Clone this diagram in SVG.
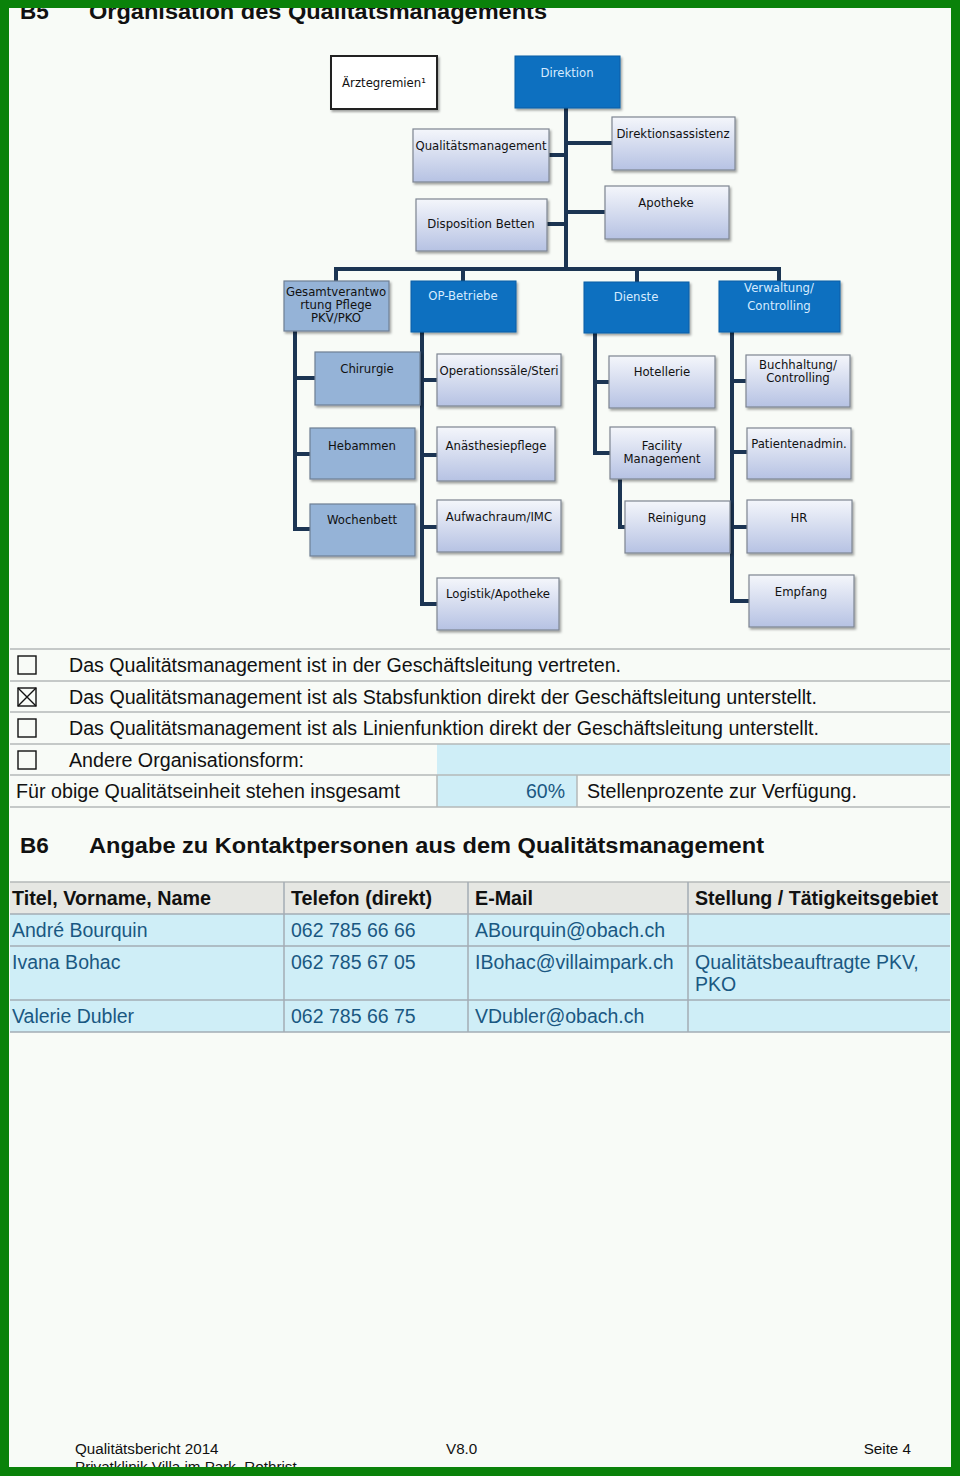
<svg xmlns="http://www.w3.org/2000/svg" width="960" height="1476" viewBox="0 0 960 1476">
<defs>
<linearGradient id="lg" x1="0" y1="0" x2="0" y2="1">
<stop offset="0" stop-color="#f4f6fb"/>
<stop offset="1" stop-color="#b6c2e3"/>
</linearGradient>
<filter id="sh" x="-10%" y="-10%" width="130%" height="140%">
<feDropShadow dx="1.5" dy="2" stdDeviation="1.2" flood-color="#000" flood-opacity="0.35"/>
</filter>
</defs>
<style>
.lt{fill:url(#lg);stroke:#7e8592;stroke-width:1.2;filter:url(#sh)}
.md{fill:#95b3d7;stroke:#6f7f94;stroke-width:1.2;filter:url(#sh)}
.dk{fill:#0a6fc0;stroke:#0a5ea6;stroke-width:1;filter:url(#sh)}
.ot{font-family:"DejaVu Sans",Verdana,sans-serif;font-size:11.7px;fill:#111;text-anchor:middle}
.wt{font-family:"DejaVu Sans",Verdana,sans-serif;font-size:11.7px;fill:#d6ebff;text-anchor:middle}
.con{stroke:#1c3553;stroke-width:4;fill:none;stroke-linecap:square}
.h{font-family:"Liberation Sans",Arial,sans-serif;font-weight:bold;font-size:22.5px;fill:#111}
.t{font-family:"Liberation Sans",Arial,sans-serif;font-size:19.5px;fill:#111}
.tb{font-family:"Liberation Sans",Arial,sans-serif;font-size:19.5px;fill:#111;font-weight:bold}
.tv{font-family:"Liberation Sans",Arial,sans-serif;font-size:19.5px;fill:#1a5882}
.rl{stroke:#b4b8b8;stroke-width:1.5}
.cb{fill:none;stroke:#111;stroke-width:1.4}
.ft{font-family:"Liberation Sans",Arial,sans-serif;font-size:15.2px;fill:#111}
</style>
<rect x="0" y="0" width="960" height="1476" fill="#f8fbf7"/>

<text class="h" x="20" y="19">B5</text>
<text class="h" x="89" y="19" textLength="458" lengthAdjust="spacingAndGlyphs">Organisation des Qualitätsmanagements</text>

<g id="connectors">
<path class="con" d="M566 108 V269 M549 155 H566 M566 143 H612 M547 224 H566 M566 212 H605"/>
<path class="con" d="M336 269 H779 M336 269 V281 M463 269 V281 M637 269 V282 M779 269 V281"/>
<path class="con" d="M295 331 V529 M295 378 H315 M295 454 H310 M295 529 H310"/>
<path class="con" d="M422 332 V604 M422 380 H437 M422 455 H437 M422 527 H437 M422 604 H437"/>
<path class="con" d="M595 333 V453 M595 382 H609 M595 453 H610 M620 479 V527 H625"/>
<path class="con" d="M732 332 V601 M732 381 H746 M732 452 H747 M732 527 H747 M732 601 H749"/>
</g>

<g id="aerztegremien"><rect x="331" y="56" width="106" height="53" fill="#fff" stroke="#222" stroke-width="2" filter="url(#sh)"/><text class="ot" x="384" y="87">Ärztegremien¹</text></g>
<g id="direktion"><rect class="dk" x="515" y="56" width="105" height="52"/><text class="wt" x="567" y="77">Direktion</text></g>
<g id="qm"><rect class="lt" x="413" y="129" width="136" height="53"/><text class="ot" x="481" y="150">Qualitätsmanagement</text></g>
<g id="direktionsassistenz"><rect class="lt" x="612" y="117" width="123" height="53"/><text class="ot" x="673" y="138">Direktionsassistenz</text></g>
<g id="disposition"><rect class="lt" x="416" y="199" width="131" height="52"/><text class="ot" x="481" y="228">Disposition Betten</text></g>
<g id="apotheke"><rect class="lt" x="605" y="186" width="124" height="53"/><text class="ot" x="666" y="207">Apotheke</text></g>

<g id="gesamtverantwortung"><rect class="md" x="284" y="281" width="105" height="50"/><text class="ot" x="336" y="296">Gesamtverantwo</text><text class="ot" x="336" y="309">rtung Pflege</text><text class="ot" x="336" y="322">PKV/PKO</text></g>
<g id="op-betriebe"><rect class="dk" x="411" y="281" width="105" height="51"/><text class="wt" x="463" y="300">OP-Betriebe</text></g>
<g id="dienste"><rect class="dk" x="584" y="282" width="105" height="51"/><text class="wt" x="636" y="301">Dienste</text></g>
<g id="verwaltung"><rect class="dk" x="719" y="281" width="121" height="51"/><text class="wt" x="779" y="292">Verwaltung/</text><text class="wt" x="779" y="310">Controlling</text></g>

<g id="chirurgie"><rect class="md" x="315" y="352" width="105" height="53"/><text class="ot" x="367" y="373">Chirurgie</text></g>
<g id="hebammen"><rect class="md" x="310" y="428" width="105" height="51"/><text class="ot" x="362" y="450">Hebammen</text></g>
<g id="wochenbett"><rect class="md" x="310" y="504" width="105" height="52"/><text class="ot" x="362" y="524">Wochenbett</text></g>

<g id="operationssaele"><rect class="lt" x="437" y="354" width="124" height="52"/><text class="ot" x="499" y="375">Operationssäle/Steri</text></g>
<g id="anaesthesiepflege"><rect class="lt" x="437" y="427" width="118" height="54"/><text class="ot" x="496" y="450">Anästhesiepflege</text></g>
<g id="aufwachraum"><rect class="lt" x="437" y="500" width="124" height="52"/><text class="ot" x="499" y="521">Aufwachraum/IMC</text></g>
<g id="logistik"><rect class="lt" x="437" y="578" width="122" height="52"/><text class="ot" x="498" y="598">Logistik/Apotheke</text></g>

<g id="hotellerie"><rect class="lt" x="609" y="356" width="106" height="52"/><text class="ot" x="662" y="376">Hotellerie</text></g>
<g id="facility"><rect class="lt" x="610" y="427" width="105" height="52"/><text class="ot" x="662" y="450">Facility</text><text class="ot" x="662" y="463">Management</text></g>
<g id="reinigung"><rect class="lt" x="625" y="501" width="105" height="52"/><text class="ot" x="677" y="522">Reinigung</text></g>

<g id="buchhaltung"><rect class="lt" x="746" y="355" width="104" height="52"/><text class="ot" x="798" y="369">Buchhaltung/</text><text class="ot" x="798" y="382">Controlling</text></g>
<g id="patientenadmin"><rect class="lt" x="747" y="428" width="104" height="51"/><text class="ot" x="799" y="448">Patientenadmin.</text></g>
<g id="hr"><rect class="lt" x="747" y="500" width="105" height="53"/><text class="ot" x="799" y="522">HR</text></g>
<g id="empfang"><rect class="lt" x="749" y="575" width="105" height="52"/><text class="ot" x="801" y="596">Empfang</text></g>

<g id="checklist">
<rect x="437" y="744" width="513" height="31" fill="#cfeef7"/>
<rect x="437" y="775" width="140" height="32" fill="#cfeef7"/>
<line class="rl" x1="10" y1="649" x2="950" y2="649"/>
<line class="rl" x1="10" y1="681" x2="950" y2="681"/>
<line class="rl" x1="10" y1="712" x2="950" y2="712"/>
<line class="rl" x1="10" y1="744" x2="950" y2="744"/>
<line class="rl" x1="10" y1="775" x2="950" y2="775"/>
<line class="rl" x1="10" y1="807" x2="950" y2="807"/>
<line class="rl" x1="437" y1="775" x2="437" y2="807"/>
<line class="rl" x1="577" y1="775" x2="577" y2="807"/>
<rect class="cb" x="18" y="656" width="18" height="18"/>
<rect class="cb" x="18" y="688" width="18" height="18"/>
<path class="cb" d="M18 688 L36 706 M36 688 L18 706"/>
<rect class="cb" x="18" y="719" width="18" height="18"/>
<rect class="cb" x="18" y="751" width="18" height="18"/>
<text class="t" x="69" y="672" textLength="552" lengthAdjust="spacingAndGlyphs">Das Qualitätsmanagement ist in der Geschäftsleitung vertreten.</text>
<text class="t" x="69" y="704" textLength="748" lengthAdjust="spacingAndGlyphs">Das Qualitätsmanagement ist als Stabsfunktion direkt der Geschäftsleitung unterstellt.</text>
<text class="t" x="69" y="735" textLength="750" lengthAdjust="spacingAndGlyphs">Das Qualitätsmanagement ist als Linienfunktion direkt der Geschäftsleitung unterstellt.</text>
<text class="t" x="69" y="767" textLength="235" lengthAdjust="spacingAndGlyphs">Andere Organisationsform:</text>
<text class="t" x="16" y="798" textLength="384" lengthAdjust="spacingAndGlyphs">Für obige Qualitätseinheit stehen insgesamt</text>
<text class="tv" x="565" y="798" text-anchor="end">60%</text>
<text class="t" x="587" y="798" textLength="270" lengthAdjust="spacingAndGlyphs">Stellenprozente zur Verfügung.</text>
</g>

<text class="h" x="20" y="853">B6</text>
<text class="h" x="89" y="853" textLength="675" lengthAdjust="spacingAndGlyphs">Angabe zu Kontaktpersonen aus dem Qualitätsmanagement</text>

<g id="contacts">
<rect x="10" y="882" width="940" height="32" fill="#e6e7e3"/>
<rect x="10" y="914" width="940" height="118" fill="#cfeef7"/>
<line class="rl" x1="10" y1="882" x2="950" y2="882"/>
<line x1="10" y1="914" x2="950" y2="914" stroke="#a3acb4" stroke-width="1.5"/>
<line x1="10" y1="946" x2="950" y2="946" stroke="#a3acb4" stroke-width="1.5"/>
<line x1="10" y1="1000" x2="950" y2="1000" stroke="#a3acb4" stroke-width="1.5"/>
<line x1="10" y1="1032" x2="950" y2="1032" stroke="#a3acb4" stroke-width="1.5"/>
<line x1="284" y1="882" x2="284" y2="1032" stroke="#a3acb4" stroke-width="1.5"/>
<line x1="468" y1="882" x2="468" y2="1032" stroke="#a3acb4" stroke-width="1.5"/>
<line x1="688" y1="882" x2="688" y2="1032" stroke="#a3acb4" stroke-width="1.5"/>
<text class="tb" x="12" y="905" textLength="199" lengthAdjust="spacingAndGlyphs">Titel, Vorname, Name</text>
<text class="tb" x="291" y="905" textLength="141" lengthAdjust="spacingAndGlyphs">Telefon (direkt)</text>
<text class="tb" x="475" y="905" textLength="58" lengthAdjust="spacingAndGlyphs">E-Mail</text>
<text class="tb" x="695" y="905" textLength="243" lengthAdjust="spacingAndGlyphs">Stellung / Tätigkeitsgebiet</text>
<text class="tv" x="12" y="937">André Bourquin</text>
<text class="tv" x="291" y="937">062 785 66 66</text>
<text class="tv" x="475" y="937">ABourquin@obach.ch</text>
<text class="tv" x="12" y="969">Ivana Bohac</text>
<text class="tv" x="291" y="969">062 785 67 05</text>
<text class="tv" x="475" y="969">IBohac@villaimpark.ch</text>
<text class="tv" x="695" y="969">Qualitätsbeauftragte PKV,</text>
<text class="tv" x="695" y="991">PKO</text>
<text class="tv" x="12" y="1023">Valerie Dubler</text>
<text class="tv" x="291" y="1023">062 785 66 75</text>
<text class="tv" x="475" y="1023">VDubler@obach.ch</text>
</g>

<g id="footer">
<text class="ft" x="75" y="1454">Qualitätsbericht 2014</text>
<text class="ft" x="446" y="1454">V8.0</text>
<text class="ft" x="911" y="1454" text-anchor="end">Seite 4</text>
<text class="ft" x="75" y="1472">Privatklinik Villa im Park, Rothrist</text>
</g>

<g id="frame" fill="#0a820a">
<rect x="0" y="0" width="960" height="8"/>
<rect x="0" y="1467" width="960" height="9"/>
<rect x="0" y="0" width="9" height="1476"/>
<rect x="951" y="0" width="9" height="1476"/>
</g>
</svg>
